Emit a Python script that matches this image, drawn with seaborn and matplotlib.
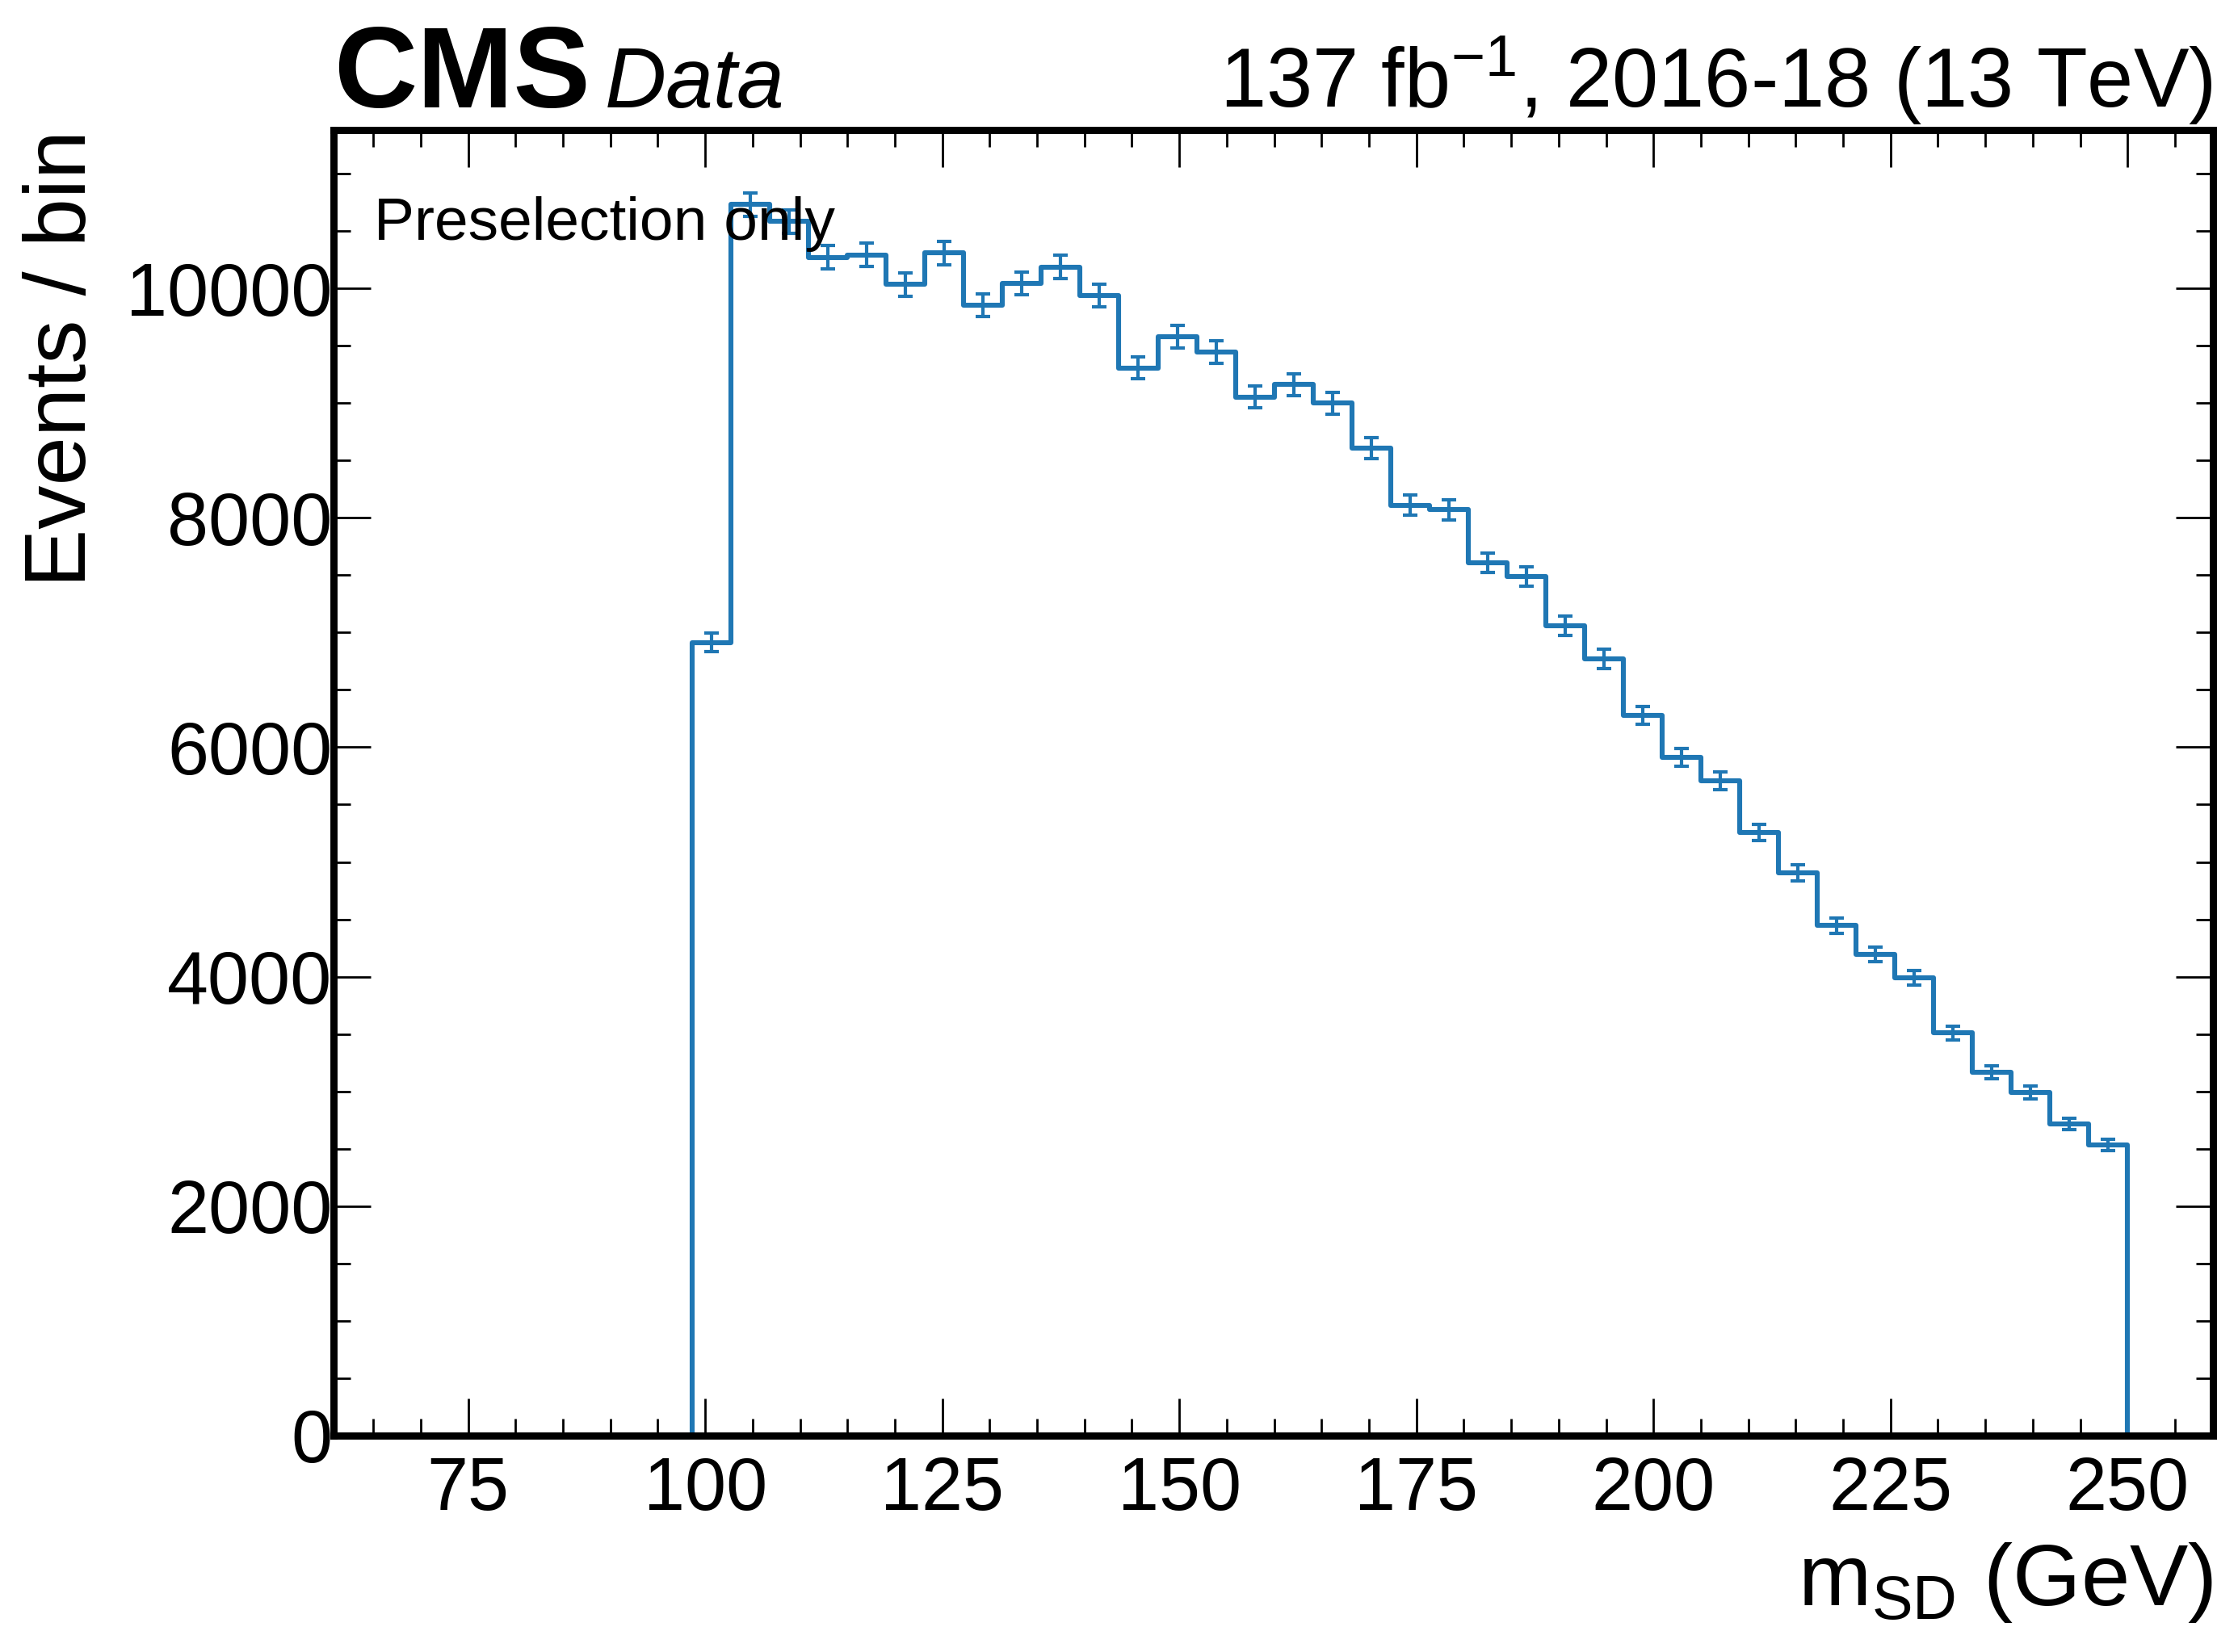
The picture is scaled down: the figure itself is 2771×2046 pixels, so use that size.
import numpy as np
import pandas as pd
import matplotlib
matplotlib.use("Agg")
import matplotlib.pyplot as plt
from matplotlib.ticker import MultipleLocator
import seaborn as sns

sns.set_theme(style="ticks")
plt.rcParams["font.family"] = ["Liberation Sans", "DejaVu Sans"]
plt.rcParams["mathtext.fontset"] = "custom"
plt.rcParams["mathtext.rm"] = "Liberation Sans"
plt.rcParams["mathtext.it"] = "Liberation Sans:italic"
for key in ["text.color", "axes.labelcolor", "xtick.color", "ytick.color", "axes.edgecolor"]:
    plt.rcParams[key] = "black"

# 44 bins of soft-drop mass between 70 and 250 GeV (first seven empty)
edges = np.linspace(70, 250, 45)
counts = [0, 0, 0, 0, 0, 0, 0,
          6914, 10731, 10582, 10270, 10290, 10033, 10307, 9852, 10042, 10185,
          9935, 9307, 9580, 9446, 9053, 9160, 9000, 8609, 8110, 8069,
          7608, 7489, 7057, 6771, 6278, 5911, 5709, 5258, 4908, 4446,
          4194, 3989, 3511, 3168, 2992, 2716, 2534]

lumi_text = r"137 fb$^{-1}$, 2016-18 (13 TeV)"
region_text = "Preselection only"
color = "#1f77b4"


def main():
    counts_arr = np.array(counts, dtype=float)
    centers = 0.5 * (edges[1:] + edges[:-1])
    width = edges[1] - edges[0]

    # one empty bin past the last edge so the outline drops back to zero
    edges_ext = [float(e) for e in np.append(edges, edges[-1] + width)]
    df = pd.DataFrame({
        "msd": np.append(centers, edges[-1] + width / 2),
        "n": np.append(counts_arr, 0.0),
    })

    fig = plt.figure(figsize=(13.855, 10.23), dpi=200)
    ax = fig.add_axes([0.149, 0.131, 0.9888 - 0.149, 0.9213 - 0.131])

    sns.histplot(data=df, x="msd", weights="n", bins=edges_ext, common_bins=False,
                 element="step", fill=False, color=color, linewidth=2.2, ax=ax)

    nz = counts_arr > 0
    ax.errorbar(centers[nz], counts_arr[nz], yerr=np.sqrt(counts_arr[nz]),
                fmt="none", ecolor=color, elinewidth=1.5, capsize=3.3, capthick=1.5)

    ax.set_xlim(60.8, 259.0)
    ax.set_ylim(0, 11380)

    ax.xaxis.set_major_locator(MultipleLocator(25))
    ax.xaxis.set_minor_locator(MultipleLocator(5))
    ax.yaxis.set_major_locator(MultipleLocator(2000))
    ax.yaxis.set_minor_locator(MultipleLocator(500))
    ax.tick_params(which="both", direction="in", top=True, right=True,
                   color="black", labelcolor="black", labelsize=33)
    ax.tick_params(which="major", length=16.5, width=1.0)
    ax.tick_params(which="minor", length=7.5, width=1.0)
    ax.tick_params(axis="x", which="major", pad=9)
    ax.tick_params(axis="y", which="major", pad=0.5)
    for sp in ax.spines.values():
        sp.set_linewidth(3.2)
        sp.set_color("black")

    ax.set_xlabel(r"m$_{\mathrm{SD}}$ (GeV)", fontsize=39, loc="right", labelpad=7)
    ax.set_ylabel("Events / bin", fontsize=39, loc="top", labelpad=10)

    ax.text(0.0215, 0.916, region_text, transform=ax.transAxes,
            fontsize=27, va="baseline", ha="left")

    off = 28.5 / (0.9213 - 0.131) / 2046
    ax.text(0.0, 1.0 + off, "CMS", transform=ax.transAxes, fontsize=51.5,
            fontweight="bold", va="baseline", ha="left")
    ax.text(0.1444, 1.0 + off, "Data", transform=ax.transAxes, fontsize=38,
            fontstyle="italic", va="baseline", ha="left")
    ax.text(1.0, 1.0 + off, lumi_text, transform=ax.transAxes, fontsize=37,
            va="baseline", ha="right")

    fig.savefig("out.png", dpi=200)


if __name__ == "__main__":
    main()
